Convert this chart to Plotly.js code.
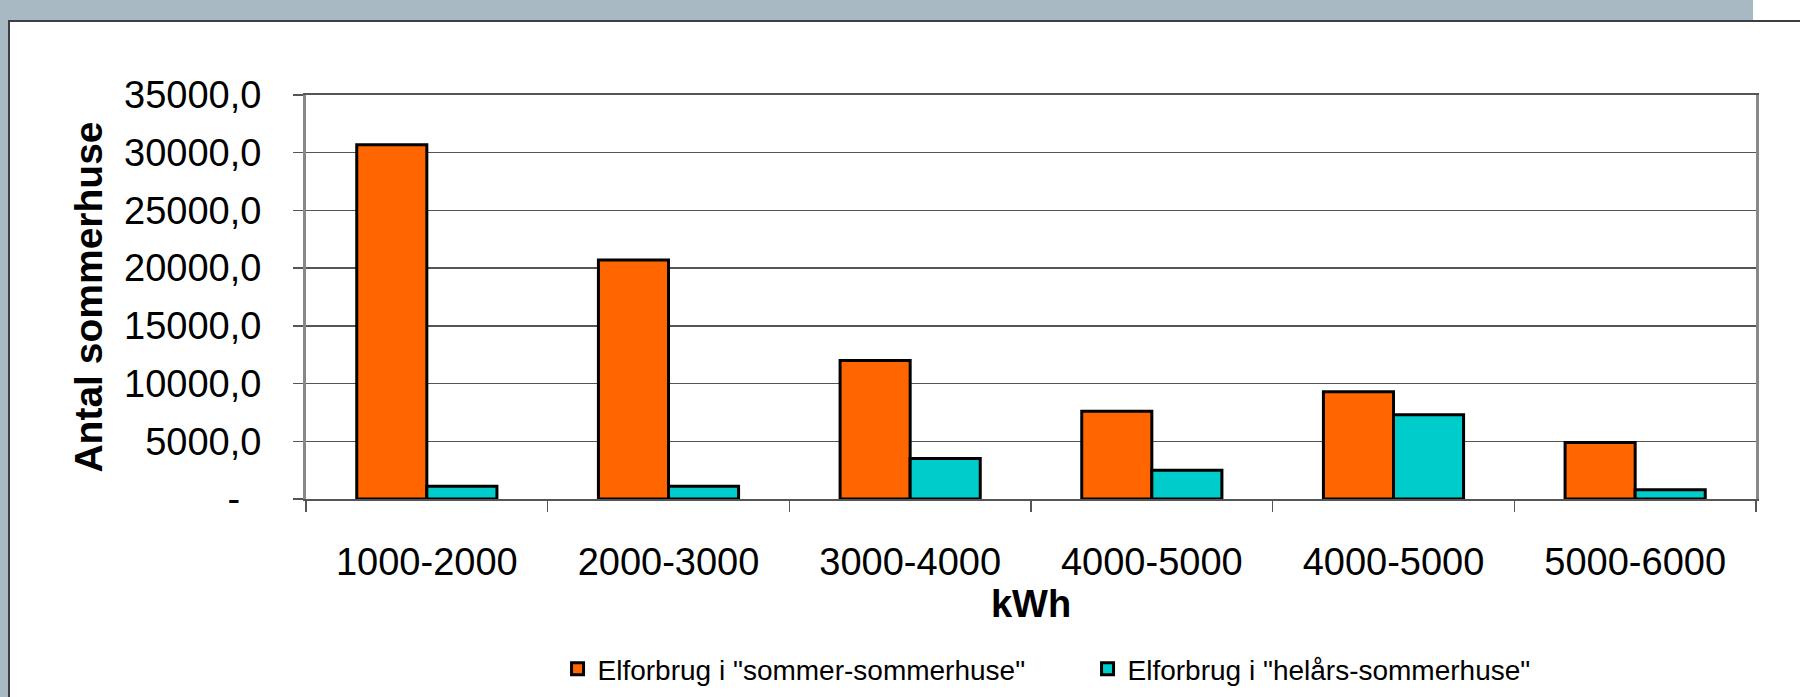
<!DOCTYPE html>
<html>
<head>
<meta charset="utf-8">
<script src="https://cdn.plot.ly/plotly-3.0.1.min.js"></script>
<style>
  html, body { margin: 0; padding: 0; background: #ffffff; }
  #wrap { position: relative; width: 1800px; height: 697px; overflow: hidden; background: #ffffff; }
  .deco { position: absolute; }
  #chart { position: absolute; left: 0; top: 0; width: 1800px; height: 697px; }
</style>
</head>
<body>
<div id="wrap">
  <div class="deco" style="left:0;top:0;width:1753px;height:21px;background:#A9B9C3;"></div>
  <div class="deco" style="left:0;top:0;width:8px;height:697px;background:#A9B9C3;"></div>
  <div class="deco" style="left:8px;top:20px;width:1792px;height:2px;background:#3a3f44;"></div>
  <div class="deco" style="left:8px;top:20px;width:2px;height:677px;background:#3a3f44;"></div>
  <div id="chart"></div>
</div>
<script>
// ---- data ----
const categories = ["1000-2000", "2000-3000", "3000-4000", "4000-5000", "4000-5000", "5000-6000"];
const sommerSommerhuse = [30700, 20700, 12000, 7600, 9300, 4900];
const helaarsSommerhuse = [1100, 1100, 3500, 2500, 7300, 800];
const seriesNames = ['Elforbrug i "sommer-sommerhuse"', 'Elforbrug i "helårs-sommerhuse"'];
const yTickValues = [0, 5000, 10000, 15000, 20000, 25000, 30000, 35000];
const yTickLabels = ["-\u00a0\u00a0", "5000,0", "10000,0", "15000,0", "20000,0", "25000,0", "30000,0", "35000,0"];

const xPos = categories.map((c, i) => i);
const FONT = "'Liberation Sans', Arial, Helvetica, sans-serif";

const traces = [
  {
    type: "bar",
    name: seriesNames[0],
    x: xPos,
    y: sommerSommerhuse,
    marker: { color: "#FF6600", line: { color: "#000000", width: 3 } },
    hoverinfo: "y"
  },
  {
    type: "bar",
    name: seriesNames[1],
    x: xPos,
    y: helaarsSommerhuse,
    marker: { color: "#00CCCC", line: { color: "#000000", width: 3 } },
    hoverinfo: "y"
  }
];

const layout = {
  width: 1800,
  height: 697,
  paper_bgcolor: "rgba(0,0,0,0)",
  plot_bgcolor: "#ffffff",
  margin: { l: 306, r: 44, t: 95, b: 198, pad: 0, autoexpand: false },
  barmode: "group",
  bargap: 0.42,
  bargroupgap: 0,
  font: { family: FONT, color: "#000000", size: 38 },
  showlegend: true,
  legend: {
    orientation: "h",
    x: 0.539,
    xanchor: "center",
    y: -0.421,
    yanchor: "middle",
    font: { family: FONT, size: 28, color: "#000000" },
    itemwidth: 30,
    entrywidth: 485,
    traceorder: "normal",
    bgcolor: "rgba(0,0,0,0)"
  },
  xaxis: {
    type: "linear",
    range: [-0.5, 5.5],
    tickmode: "array",
    tickvals: xPos,
    ticktext: categories,
    ticks: "",
    ticklabelstandoff: 28,
    tickfont: { family: FONT, size: 38, color: "#000000" },
    showgrid: false,
    zeroline: false,
    showline: true,
    linecolor: "#555555",
    linewidth: 2,
    mirror: true,
    minor: {
      tickmode: "linear",
      tick0: -0.5,
      dtick: 1,
      ticks: "outside",
      ticklen: 11,
      tickwidth: 1.5,
      tickcolor: "#555555",
      showgrid: false
    },
    title: {
      text: "<b>kWh</b>",
      font: { family: FONT, size: 38, color: "#000000" },
      standoff: 8
    },
    fixedrange: true
  },
  yaxis: {
    range: [0, 35000],
    tickmode: "array",
    tickvals: yTickValues,
    ticktext: yTickLabels,
    ticks: "outside",
    ticklen: 10,
    tickwidth: 1.5,
    tickcolor: "#555555",
    ticklabelstandoff: 24,
    tickfont: { family: FONT, size: 38, color: "#000000" },
    showgrid: true,
    gridcolor: "#555555",
    gridwidth: 1.5,
    zeroline: false,
    showline: true,
    linecolor: "#888888",
    linewidth: 3,
    mirror: true,
    title: {
      text: "<b>Antal sommerhuse</b>",
      font: { family: FONT, size: 39, color: "#000000" },
      standoff: 10
    },
    fixedrange: true
  }
};

Plotly.newPlot("chart", traces, layout, { displayModeBar: false, staticPlot: true });
</script>
</body>
</html>
